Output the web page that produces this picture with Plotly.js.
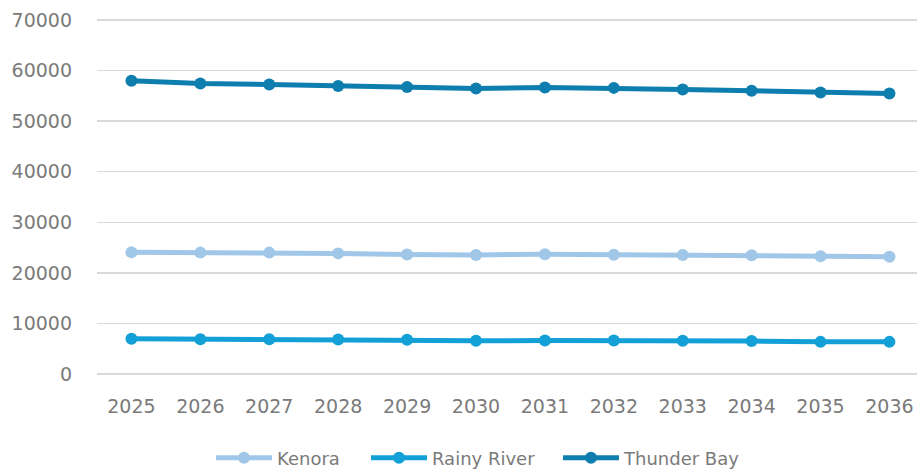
<!DOCTYPE html>
<html>
<head>
<meta charset="utf-8">
<script src="https://cdn.plot.ly/plotly-3.0.1.min.js"></script>
<style>html,body{margin:0;padding:0;background:#fff;}#chart{width:918px;height:470px;}</style>
</head>
<body>
<div id="chart"></div>
<script>
const years = ["2025","2026","2027","2028","2029","2030","2031","2032","2033","2034","2035","2036"];
const kenora = [24050, 24000, 24000, 23850, 23650, 23550, 23700, 23600, 23550, 23500, 23300, 23200];
const rainyRiver = [6950, 6850, 6850, 6800, 6750, 6550, 6600, 6600, 6550, 6500, 6350, 6350];
const thunderBay = [58000, 57450, 57250, 56950, 56750, 56450, 56650, 56580, 56270, 55990, 55670, 55470];
const yTicks = [0, 10000, 20000, 30000, 40000, 50000, 60000, 70000];

const names = ["Kenora", "Rainy River", "Thunder Bay"];
const series = [kenora, rainyRiver, thunderBay];
const colors = ["#A0C7E7", "#12A0D7", "#0D7EAE"];
const legendIds = ["legend", "legend2", "legend3"];
const legendLeftPx = [211, 366, 558];

const traces = series.map((vals, i) => ({
  type: "scatter",
  mode: "lines+markers",
  name: names[i],
  x: years,
  y: vals,
  legend: legendIds[i],
  line: {color: colors[i], width: 5},
  marker: {color: colors[i], size: 12}
}));

const font = {family: "DejaVu Sans, sans-serif", size: 19, color: "#7a7a7a"};
const plotL = 97, plotW = 820, plotB = 376, plotH = 358;

const layout = {
  width: 918,
  height: 470,
  margin: {l: plotL, r: 1, t: 18, b: 94, autoexpand: false},
  paper_bgcolor: "#ffffff",
  plot_bgcolor: "#ffffff",
  font: font,
  showlegend: true,
  xaxis: {
    type: "category",
    range: [-0.5, 11.4],
    showgrid: false,
    zeroline: false,
    showline: false,
    ticks: "",
    ticklabelstandoff: 17,
    tickfont: font,
    fixedrange: true
  },
  yaxis: {
    range: [-400, 70400],
    tickvals: yTicks,
    ticktext: yTicks.map(String),
    showgrid: true,
    gridcolor: "#d9d9d9",
    gridwidth: 1.5,
    zeroline: false,
    showline: false,
    ticks: "",
    ticklabelstandoff: 24,
    tickfont: font,
    fixedrange: true
  }
};

legendIds.forEach((id, i) => {
  layout[id] = {
    orientation: "h",
    x: (legendLeftPx[i] - plotL) / plotW,
    xanchor: "left",
    y: (plotB - 458) / plotH,
    yanchor: "middle",
    font: {family: "DejaVu Sans, sans-serif", size: 18, color: "#7a7a7a"},
    itemwidth: 56,
    bgcolor: "rgba(0,0,0,0)"
  };
});

Plotly.newPlot("chart", traces, layout, {displayModeBar: false, staticPlot: true});
</script>
</body>
</html>
